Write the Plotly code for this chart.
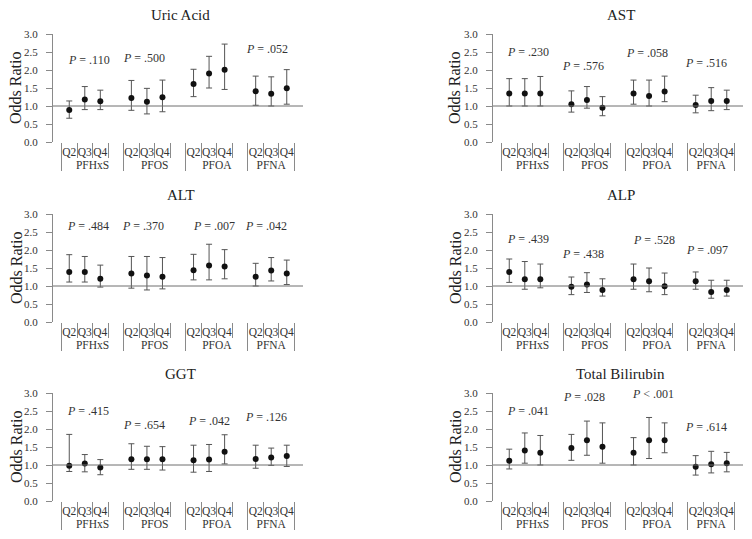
import plotly.graph_objects as go

# ---------------- data ----------------
panel_titles = ["Uric Acid", "AST", "ALT", "ALP", "GGT", "Total Bilirubin"]
compounds = ["PFHxS", "PFOS", "PFOA", "PFNA"]
quartiles = ["Q2", "Q3", "Q4"]
y_ticks = [0.0, 0.5, 1.0, 1.5, 2.0, 2.5, 3.0]

# odds ratios, ordered PFHxS Q2-Q4, PFOS Q2-Q4, PFOA Q2-Q4, PFNA Q2-Q4
uric_or = [0.89, 1.18, 1.13, 1.22, 1.12, 1.24, 1.61, 1.90, 2.01, 1.41, 1.34, 1.49]
uric_lo = [0.66, 0.90, 0.90, 0.88, 0.78, 0.84, 1.26, 1.50, 1.46, 1.02, 1.00, 1.05]
uric_hi = [1.14, 1.54, 1.44, 1.71, 1.49, 1.72, 2.02, 2.38, 2.72, 1.83, 1.81, 2.01]

ast_or = [1.35, 1.35, 1.35, 1.05, 1.17, 0.95, 1.35, 1.28, 1.40, 1.03, 1.14, 1.14]
ast_lo = [1.00, 1.00, 1.00, 0.83, 0.94, 0.73, 1.05, 1.00, 1.12, 0.81, 0.87, 0.90]
ast_hi = [1.76, 1.76, 1.82, 1.42, 1.54, 1.26, 1.72, 1.72, 1.83, 1.30, 1.51, 1.44]

alt_or = [1.39, 1.39, 1.20, 1.35, 1.29, 1.26, 1.44, 1.57, 1.54, 1.26, 1.43, 1.35]
alt_lo = [1.11, 1.11, 0.97, 0.94, 0.89, 0.92, 1.17, 1.17, 1.20, 1.00, 1.14, 1.04]
alt_hi = [1.87, 1.82, 1.58, 1.82, 1.82, 1.79, 1.88, 2.16, 2.01, 1.63, 1.79, 1.72]

alp_or = [1.39, 1.19, 1.19, 0.98, 1.04, 0.89, 1.19, 1.13, 0.99, 1.13, 0.83, 0.89]
alp_lo = [1.10, 0.91, 0.95, 0.76, 0.82, 0.72, 0.91, 0.84, 0.76, 0.91, 0.66, 0.72]
alp_hi = [1.75, 1.68, 1.61, 1.25, 1.37, 1.20, 1.61, 1.50, 1.36, 1.39, 1.16, 1.16]

ggt_or = [0.98, 1.04, 0.93, 1.16, 1.16, 1.16, 1.13, 1.15, 1.37, 1.17, 1.21, 1.25]
ggt_lo = [0.82, 0.81, 0.73, 0.88, 0.88, 0.86, 0.80, 0.82, 1.03, 0.91, 0.99, 0.96]
ggt_hi = [1.85, 1.29, 1.15, 1.59, 1.52, 1.51, 1.55, 1.57, 1.84, 1.55, 1.47, 1.55]

tbil_or = [1.12, 1.40, 1.34, 1.47, 1.69, 1.51, 1.34, 1.69, 1.69, 0.95, 1.02, 1.05]
tbil_lo = [0.89, 1.05, 1.00, 1.13, 1.27, 1.05, 1.00, 1.18, 1.34, 0.72, 0.78, 0.81]
tbil_hi = [1.44, 1.89, 1.82, 1.85, 2.22, 2.17, 1.76, 2.32, 2.17, 1.26, 1.38, 1.35]

uric_p = ["= .110", "= .500", "&lt; .001", "= .052"]
ast_p = ["= .230", "= .576", "= .058", "= .516"]
alt_p = ["= .484", "= .370", "= .007", "= .042"]
alp_p = ["= .439", "= .438", "= .528", "= .097"]
ggt_p = ["= .415", "= .654", "= .042", "= .126"]
tbil_p = ["= .041", "= .028", "&lt; .001", "= .614"]

# ---------------- layout helpers (positions of P-value labels) ----------------
p_label_x = [
    [1.26, 4.78, 9.02, 12.74],
    [1.22, 4.76, 8.86, 12.68],
    [1.22, 4.72, 9.34, 12.66],
    [1.22, 4.76, 9.34, 12.72],
    [1.22, 4.78, 9.02, 12.66],
    [1.22, 4.78, 9.28, 12.68],
]
p_label_y = [
    [2.27, 2.32, 3.14, 2.57],
    [2.49, 2.11, 2.47, 2.19],
    [2.68, 2.68, 2.68, 2.68],
    [2.31, 1.88, 2.28, 2.00],
    [2.50, 2.10, 2.22, 2.33],
    [2.50, 2.88, 2.96, 2.06],
]

panel_or = [uric_or, ast_or, alt_or, alp_or, ggt_or, tbil_or]
panel_lo = [uric_lo, ast_lo, alt_lo, alp_lo, ggt_lo, tbil_lo]
panel_hi = [uric_hi, ast_hi, alt_hi, alp_hi, ggt_hi, tbil_hi]
panel_p = [uric_p, ast_p, alt_p, alp_p, ggt_p, tbil_p]

W, H = 752, 539
x_dom = [[53 / W, 303 / W], [493 / W, 743 / W]]
y_px = [(34, 142), (214, 322), (393, 501)]
y_dom = [[1 - b / H, 1 - t / H] for t, b in y_px]

FONT = "Liberation Serif, Times New Roman, serif"
LINE = "#8a8a8a"
TXT = "#333333"

fig = go.Figure()
layout = dict(
    template="none",
    width=W, height=H,
    margin=dict(l=0, r=0, t=0, b=0),
    paper_bgcolor="white", plot_bgcolor="white",
    showlegend=False,
    font=dict(family=FONT, color=TXT),
)
annotations = []
shapes = []

cat_x0 = [c for c in compounds for _ in quartiles]
cat_x1 = [q for _ in compounds for q in quartiles]
# one empty slot after each compound group except the last
spacer_x0 = compounds[:-1]
spacer_x1 = [" "] * (len(compounds) - 1)

for i, title in enumerate(panel_titles):
    r, c = divmod(i, 2)
    sfx = "" if i == 0 else str(i + 1)
    xa, ya = "x" + sfx, "y" + sfx
    orv, lo, hi = panel_or[i], panel_lo[i], panel_hi[i]

    fig.add_trace(go.Scatter(
        x=[cat_x0, cat_x1], y=orv, mode="markers",
        xaxis=xa, yaxis=ya,
        marker=dict(color="#111111", size=6),
        error_y=dict(type="data", symmetric=False,
                     array=[h - o for h, o in zip(hi, orv)],
                     arrayminus=[o - l for o, l in zip(orv, lo)],
                     color="#555555", thickness=1, width=3),
    ))
    fig.add_trace(go.Scatter(
        x=[spacer_x0, spacer_x1], y=[None] * len(spacer_x0),
        mode="markers", xaxis=xa, yaxis=ya, hoverinfo="skip",
        marker=dict(opacity=0),
    ))

    layout["xaxis" + sfx] = dict(
        type="multicategory", domain=x_dom[c], anchor=ya,
        automargin=False,
        showgrid=False, zeroline=False, showline=False,
        ticks="outside", tickson="boundaries", ticklen=15,
        tickcolor=LINE, tickwidth=1, tickangle=0,
        ticklabelstandoff=1,
        showdividers=True, dividercolor=LINE, dividerwidth=1,
        tickfont=dict(family=FONT, size=11.5, color=TXT),
        fixedrange=True,
    )
    layout["yaxis" + sfx] = dict(
        domain=y_dom[r], anchor=xa, range=[0, 3],
        automargin=False,
        tickvals=y_ticks, tickformat=".1f",
        showgrid=False, zeroline=False,
        showline=True, linecolor=LINE, linewidth=1,
        ticks="outside", ticklen=6, tickcolor=LINE,
        ticklabelstandoff=6,
        tickfont=dict(family=FONT, size=11, color=TXT),
        fixedrange=True,
    )

    shapes.append(dict(type="line", xref=xa + " domain", yref=ya,
                       x0=0, x1=1, y0=1, y1=1,
                       line=dict(color="#6e6e6e", width=1)))

    annotations.append(dict(
        text=title, xref=xa + " domain", yref=ya + " domain",
        x=0.51, y=1 + 19 / 108, xanchor="center", yanchor="middle",
        showarrow=False, font=dict(family=FONT, size=15, color="#222222"),
    ))
    annotations.append(dict(
        text="Odds Ratio", textangle=-90, xref="paper", yref=ya + " domain",
        x=(16 if c == 0 else 455) / W, y=0.5, xanchor="center", yanchor="middle",
        showarrow=False, font=dict(family=FONT, size=16, color="#222222"),
    ))
    for g, ptxt in enumerate(panel_p[i]):
        annotations.append(dict(
            text="<i>P</i> " + ptxt, xref=xa, yref=ya,
            x=p_label_x[i][g], y=p_label_y[i][g],
            xanchor="center", yanchor="middle", showarrow=False,
            font=dict(family=FONT, size=12, color=TXT),
        ))

layout["annotations"] = annotations
layout["shapes"] = shapes
fig.update_layout(**layout)
fig.write_html(
    "out.html",
    config={"displayModeBar": False},
    post_script="document.body.style.margin='0px';document.body.style.overflow='hidden';",
)
